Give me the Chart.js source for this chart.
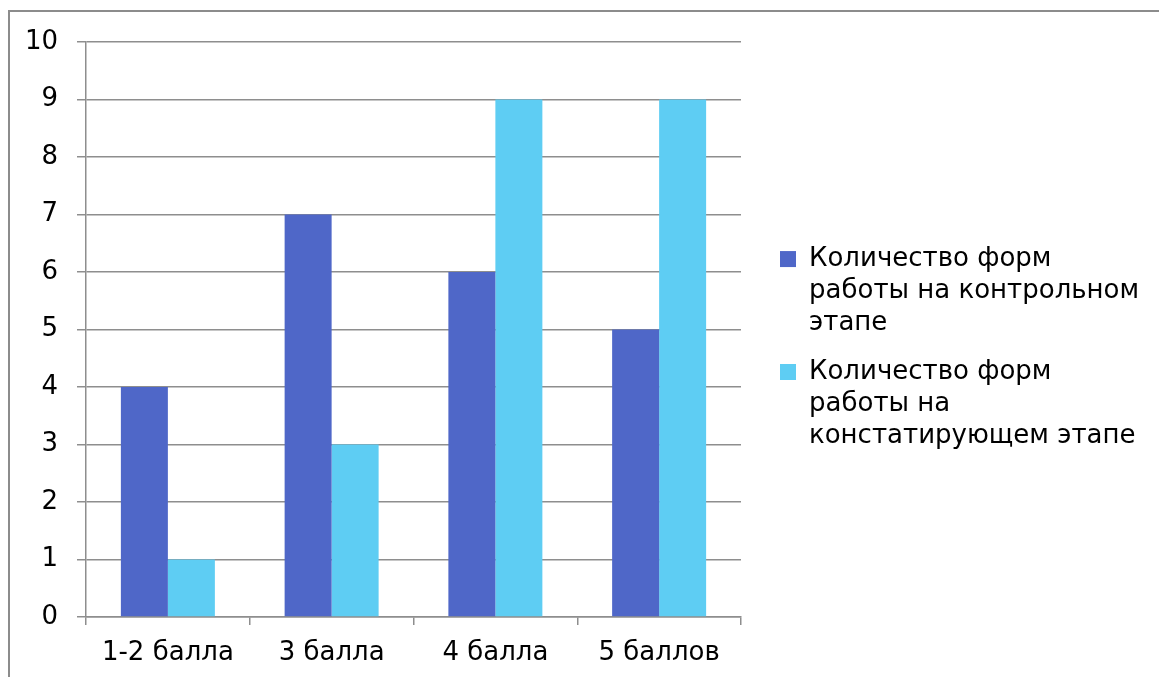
<!DOCTYPE html>
<html>
<head>
<meta charset="utf-8">
<script src="https://cdn.jsdelivr.net/npm/chart.js@4"></script>
<style>
html, body { margin: 0; padding: 0; background: #fff; overflow: hidden; }
#frame { position: absolute; left: 8px; top: 10px; width: 1300px; height: 800px; border: 2px solid #8c8c8c; }
#wrap { position: absolute; left: 0; top: 0; width: 1159px; height: 677px; }
</style>
</head>
<body>
<div id="frame"></div>
<div id="wrap"><canvas id="myChart"></canvas></div>
<script>
// chart data
const categories = ['1-2 балла', '3 балла', '4 балла', '5 баллов'];
const controlStage = [4, 7, 6, 5];
const statingStage = [1, 3, 9, 9];
const controlLabel = ['Количество форм', 'работы на контрольном', 'этапе'];
const statingLabel = ['Количество форм', 'работы на', 'констатирующем этапе'];

const gridGray = '#8e8e8e';
const font = { family: '"DejaVu Sans", Verdana, sans-serif', size: 26 };

Chart.defaults.color = '#000';
Chart.defaults.animation = false;

// multi-line legend labels are measured too narrow, so fix the legend width
// (the extra column height just nudges the centred items up a little)
const legendWidthFix = {
    id: 'legendWidthFix',
    beforeLayout(chart) {
        const lg = chart.legend;
        if (lg && !lg._widthPatched) {
            const origFit = lg.fit.bind(lg);
            lg.fit = function () {
                origFit();
                this.width = 396;
                if (this.columnSizes) this.columnSizes.forEach(c => { c.width = 396 - 34; c.height += 18; });
            };
            lg._widthPatched = true;
        }
    }
};

const ctx = document.getElementById('myChart').getContext('2d');
new Chart(ctx, {
    type: 'bar',
    data: {
        labels: categories,
        datasets: [{
            label: controlLabel,
            data: controlStage,
            backgroundColor: '#4f67c8',
            categoryPercentage: 0.574,
            barPercentage: 1
        },
        {
            label: statingLabel,
            data: statingStage,
            backgroundColor: '#5ecdf3',
            categoryPercentage: 0.574,
            barPercentage: 1
        }]
    },
    plugins: [legendWidthFix],
    options: {
        responsive: true,
        maintainAspectRatio: false,
        layout: {
            padding: { left: 0, top: 42, right: 0, bottom: 0 }
        },
        plugins: {
            legend: {
                display: true,
                position: 'right',
                labels: {
                    font: { ...font, lineHeight: 1.23 },
                    boxWidth: 16,
                    boxHeight: 16,
                    padding: 17,
                    color: '#000'
                }
            },
            tooltip: { enabled: false }
        },
        scales: {
            x: {
                grid: {
                    drawOnChartArea: false,
                    color: gridGray,
                    lineWidth: 1.5,
                    tickLength: 8
                },
                border: { color: gridGray, width: 1.5 },
                ticks: { font: font, color: '#000', padding: 13 },
                afterFit: (scale) => { scale.height = 60; }
            },
            y: {
                min: 0,
                max: 10,
                ticks: { stepSize: 1, font: font, color: '#000', padding: 19 },
                grid: { color: gridGray, lineWidth: 1.5, tickLength: 9 },
                border: { color: gridGray, width: 1.5 },
                afterFit: (scale) => { scale.width = 86; }
            },
            // empty axis on the right, only to keep a gap before the legend
            yr: {
                position: 'right',
                min: 0,
                max: 10,
                ticks: { display: false },
                grid: { display: false },
                border: { display: false },
                afterFit: (scale) => { scale.width = 22; }
            }
        }
    }
});
</script>
</body>
</html>
